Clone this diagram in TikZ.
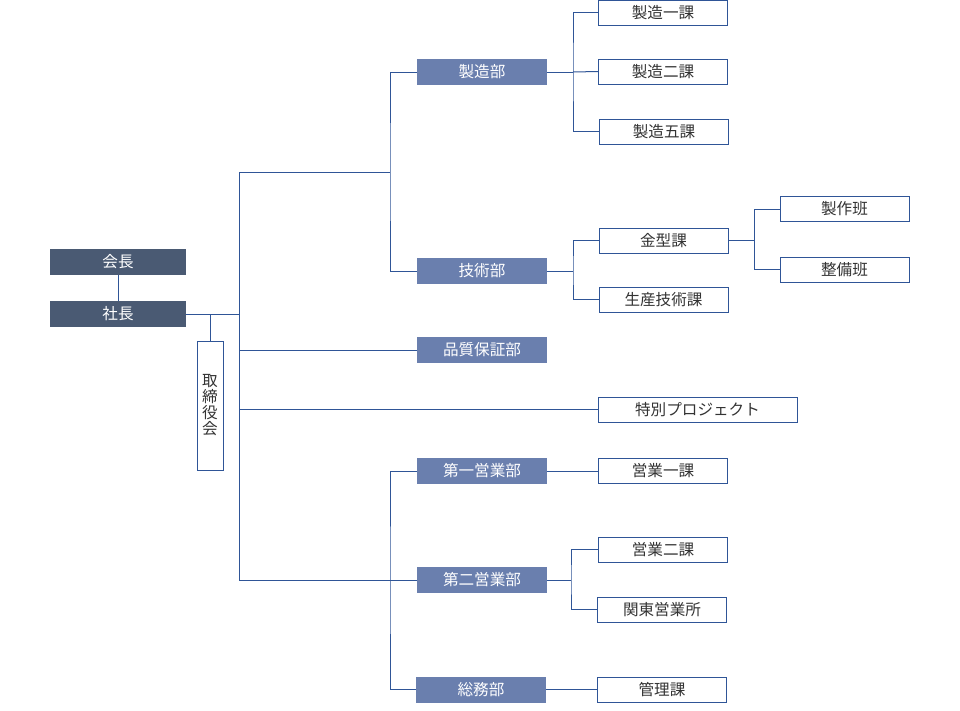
\documentclass[tikz,border=0pt]{standalone}
\usepackage{fontspec}
\setmainfont{Noto Sans CJK JP}
\definecolor{lineblue}{HTML}{2F5597}
\definecolor{darkfill}{HTML}{4A5A73}
\definecolor{midfill}{HTML}{6A7FAE}
\definecolor{txtgray}{HTML}{333333}
\tikzset{
  base/.style={inner sep=0pt, minimum height=26pt, font=\fontsize{15.6}{17}\selectfont},
  darkbox/.style={base, fill=darkfill, text=white, minimum width=136pt},
  midbox/.style={base, fill=midfill, text=white, minimum width=130pt},
  whitebox/.style={base, draw=lineblue, line width=0.9pt, fill=white, text=txtgray, minimum width=129pt, minimum height=25pt},
  conn/.style={draw=lineblue, line width=1pt},
}
\begin{document}
\begin{tikzpicture}[x=1pt,y=-1pt]
\useasboundingbox (0,0) rectangle (960,710);
% nodes
\node[darkbox] (kaicho) at (118,262) {会長};
\node[darkbox] (shacho) at (118,314) {社長};
\node[whitebox, minimum width=26pt, minimum height=129pt, align=center, font=\fontsize{15.6}{16}\selectfont] (tori) at (210,405.5) {取\\締\\役\\会};
\node[midbox] (seizo) at (482,72) {製造部};
\node[whitebox] (s1) at (663,12.5) {製造一課};
\node[whitebox] (s2) at (663,71.5) {製造二課};
\node[whitebox] (s5) at (664,131.5) {製造五課};
\node[midbox] (giju) at (482,271) {技術部};
\node[whitebox] (kana) at (663.5,240.5) {金型課};
\node[whitebox] (seisan) at (663.5,299.5) {生産技術課};
\node[whitebox] (seisaku) at (844.5,209) {製作班};
\node[whitebox] (seibi) at (844.5,269.5) {整備班};
\node[midbox] (hin) at (482,350) {品質保証部};
\node[whitebox, minimum width=199pt] (toku) at (697.5,409.5) {特別プロジェクト};
\node[midbox] (ei1) at (482,471) {第一営業部};
\node[whitebox] (e1k) at (663,471) {営業一課};
\node[midbox] (ei2) at (482,580) {第二営業部};
\node[whitebox] (e2k) at (663,549.5) {営業二課};
\node[whitebox] (kanto) at (662,609.5) {関東営業所};
\node[midbox] (somu) at (481,689.5) {総務部};
\node[whitebox] (kanri) at (662,689.5) {管理課};
% junction coordinates
\coordinate (tTop) at (239,172);
\coordinate (tBot) at (239,580);
\coordinate (bA) at (390,172);
\coordinate (bB) at (390,580);
\coordinate (jS) at (573,72);
\coordinate (jG) at (573,271);
\coordinate (jK) at (754,240.5);
\coordinate (jE) at (571,580);
% connectors
\draw[conn] (kaicho) -- (shacho);
\draw[conn] (shacho.east) -- (shacho.east -| tTop);
\draw[conn] (tori.north) -- (tori.north |- shacho.east);
\draw[conn] (tTop) -- (tBot);
\draw[conn] (tTop) -- (bA);
\draw[conn] (seizo.west) -| (bA) |- (giju.west);
\draw[conn] (hin.west -| tTop) -- (hin.west);
\draw[conn] (toku.west -| tTop) -- (toku.west);
\draw[conn] (tBot) -- (bB);
\draw[conn] (ei1.west) -| (bB) |- (somu.west);
\draw[conn] (bB) -- (ei2.west);
\draw[conn] (seizo.east) -- (jS);
\draw[conn] (s1.west) -| (jS) |- (s5.west);
\draw[conn] (jS) -- (s2.west);
\draw[conn] (giju.east) -- (jG);
\draw[conn] (kana.west) -| (jG) |- (seisan.west);
\draw[conn] (kana.east) -- (jK);
\draw[conn] (seisaku.west) -| (jK) |- (seibi.west);
\draw[conn] (ei1.east) -- (e1k.west);
\draw[conn] (ei2.east) -- (jE);
\draw[conn] (e2k.west) -| (jE) |- (kanto.west);
\draw[conn] (somu.east) -- (kanri.west);
\end{tikzpicture}
\end{document}
